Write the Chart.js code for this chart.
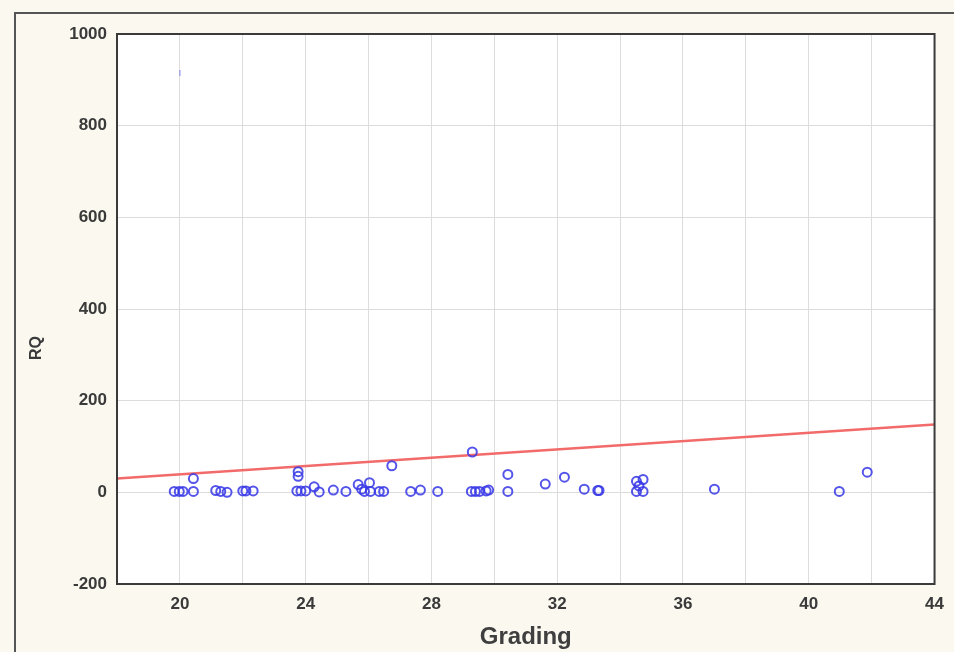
<!DOCTYPE html>
<html lang="en">
<head>
    <meta charset="UTF-8">
    <title>RQ vs Grading</title>
    <script src="https://cdn.jsdelivr.net/npm/chart.js"></script>
    <style>
        html, body {
            margin: 0;
            padding: 0;
            background: #fbf8ef;
        }
        .chart-container {
            width: 954px;
            height: 652px;
        }
    </style>
</head>
<body>
    <div class="chart-container">
        <canvas id="scatter"></canvas>
    </div>

    <script>
        // Observed points (Grading, RQ)
        const gradingX = [19.82, 19.98, 20.1, 20.43, 20.43, 21.14, 21.3, 21.5, 22.0, 22.1, 22.33,
            23.72, 23.76, 23.76, 23.85, 24.0, 24.27, 24.43, 24.88, 25.28, 25.67, 25.78, 25.87,
            26.03, 26.06, 26.34, 26.48, 26.74, 27.34, 27.65, 28.2, 29.3, 29.27, 29.4, 29.53,
            29.74, 29.82, 30.43, 30.43, 31.62, 32.23, 32.86, 33.29, 33.33, 34.52, 34.73, 34.52,
            34.73, 34.6, 37.0, 40.97, 41.86];
        const rqY = [2, 2, 2, 2, 30, 4, 2, 0, 3, 3, 3,
            3, 45, 35, 3, 3, 12, 1, 5, 2, 17, 7, 2,
            21, 2, 2, 2, 58, 2, 5, 2, 88, 2, 2, 2,
            3, 5, 39, 2, 18, 33, 7, 4, 4, 24, 28, 2,
            2, 14, 7, 2, 44];

        // faint outlier near the top
        const outlierX = [20];
        const outlierY = [915];

        // fitted line end points
        const fitX = [18, 44];
        const fitY = [30, 148];

        const xTicks = { min: 18, max: 44, step: 2 };
        const yTicks = { min: -200, max: 1000, step: 200 };

        const toPoints = (xs, ys) => xs.map((x, i) => ({ x: x, y: ys[i] }));

        // background, frame and plot border
        const framePlugin = {
            id: 'frame',
            beforeDraw(chart) {
                const { ctx, chartArea: a } = chart;
                ctx.save();
                ctx.fillStyle = '#fbf8ef';
                ctx.fillRect(0, 0, chart.width, chart.height);
                ctx.strokeStyle = '#555';
                ctx.lineWidth = 2;
                ctx.strokeRect(15, 13, chart.width + 20, chart.height + 20);
                ctx.fillStyle = '#ffffff';
                ctx.fillRect(a.left, a.top, a.right - a.left, a.bottom - a.top);
                ctx.restore();
            },
            afterDraw(chart) {
                const { ctx, chartArea: a } = chart;
                ctx.save();
                ctx.strokeStyle = '#3a3a3a';
                ctx.lineWidth = 2;
                ctx.strokeRect(a.left, a.top, a.right - a.left, a.bottom - a.top);
                // y axis title
                ctx.translate(37, 348);
                ctx.rotate(-Math.PI / 2);
                ctx.fillStyle = '#3a3a3a';
                ctx.font = 'bold 16px "Liberation Sans", Arial, sans-serif';
                ctx.textAlign = 'center';
                ctx.textBaseline = 'middle';
                ctx.fillText('RQ', 0, 0);
                ctx.restore();
            }
        };

        const ctx = document.getElementById('scatter').getContext('2d');
        new Chart(ctx, {
            type: 'scatter',
            data: {
                datasets: [
                    {
                        label: 'RQ',
                        data: toPoints(gradingX, rqY),
                        pointStyle: 'circle',
                        pointRadius: 4.5,
                        borderColor: 'rgba(55, 55, 230, 0.85)',
                        backgroundColor: 'rgba(0, 0, 0, 0)',
                        borderWidth: 2
                    },
                    {
                        label: 'outlier',
                        data: toPoints(outlierX, outlierY),
                        pointStyle: 'line',
                        rotation: 90,
                        pointRadius: 3,
                        borderColor: 'rgba(120, 120, 240, 0.6)',
                        borderWidth: 1.5
                    },
                    {
                        type: 'line',
                        label: 'fit',
                        data: toPoints(fitX, fitY),
                        borderColor: '#f26a6a',
                        borderWidth: 2.5,
                        pointRadius: 0,
                        fill: false
                    }
                ]
            },
            options: {
                responsive: true,
                maintainAspectRatio: false,
                animation: false,
                layout: {
                    padding: { left: 0, top: 34, right: 18, bottom: 0 }
                },
                plugins: {
                    legend: { display: false },
                    tooltip: { enabled: false }
                },
                scales: {
                    x: {
                        type: 'linear',
                        min: xTicks.min,
                        max: xTicks.max,
                        afterFit: (scale) => { scale.height = 68; },
                        ticks: {
                            stepSize: xTicks.step,
                            autoSkip: false,
                            maxRotation: 0,
                            padding: 10,
                            color: '#3a3a3a',
                            font: { family: '"Liberation Sans", Arial, sans-serif', size: 17, weight: 'bold' },
                            callback: (v) => (v % 4 === 0) ? String(v) : ''
                        },
                        grid: {
                            color: '#dcdcdc',
                            lineWidth: 1,
                            drawTicks: false
                        },
                        border: { display: false },
                        title: {
                            display: true,
                            text: 'Grading',
                            color: '#3f3f3f',
                            padding: { top: 0, bottom: 0 },
                            font: { family: '"Liberation Sans", Arial, sans-serif', size: 24, weight: 'bold' }
                        }
                    },
                    y: {
                        min: yTicks.min,
                        max: yTicks.max,
                        afterFit: (scale) => { scale.width = 117; },
                        ticks: {
                            stepSize: yTicks.step,
                            padding: 10,
                            color: '#3a3a3a',
                            font: { family: '"Liberation Sans", Arial, sans-serif', size: 17, weight: 'bold' },
                            callback: (v) => String(v)
                        },
                        grid: {
                            color: '#dcdcdc',
                            lineWidth: 1,
                            drawTicks: false
                        },
                        border: { display: false }
                    }
                }
            },
            plugins: [framePlugin]
        });
    </script>
</body>
</html>
